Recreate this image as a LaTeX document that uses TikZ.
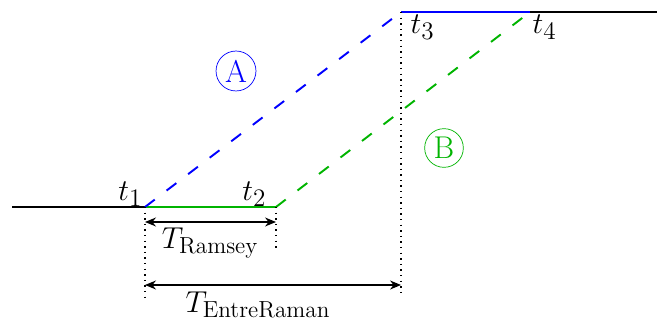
\documentclass[tikz,border=0pt]{standalone}
\usepackage{amsmath,amssymb}
\usepackage{xcolor}
\usetikzlibrary{arrows.meta,positioning}
\definecolor{verde}{RGB}{0,180,0}

\begin{document}
\begin{tikzpicture}[x=0.0201cm, y=-0.0201cm, >={Stealth[length=2.2mm, width=1.8mm]},
  nivel/.style={line width=1.1pt}, salto/.style={line width=1.1pt, dash pattern=on 7pt off 8.5pt},
  guia/.style={line width=0.8pt, dash pattern=on 0.8pt off 2.4pt}, rotulo/.style={font=\fontsize{19}{23}\selectfont},
  estado/.style={draw, circle, inner sep=1.8pt, font=\fontsize{18}{22}\selectfont}]
\useasboundingbox (0,0) rectangle (657,323);
\coordinate (ini) at (12,207); \coordinate (t1) at (145,207); \coordinate (t2) at (276,207);
\coordinate (t3) at (401,12); \coordinate (t4) at (530,12); \coordinate (fim) at (657,12);
\draw[nivel] (ini) -- (t1); \draw[nivel, verde] (t1) -- (t2);
\draw[nivel, blue] (t3) -- (t4); \draw[nivel] (t4) -- (fim);
\draw[salto, blue] (t1) -- (t3); \draw[salto, verde] (t2) -- (t4);
\node[rotulo, above left=-3pt and -2pt of t1] (lt1) {$t_1$};
\node[rotulo, above left=-3pt and 2pt of t2] (lt2) {$t_2$};
\node[rotulo, below right=-2pt and 2pt of t3] (lt3) {$t_3$};
\node[rotulo, below right=-2pt and -2pt of t4] (lt4) {$t_4$};
\coordinate (b1) at (145,297); \coordinate (b2) at (276,250); \coordinate (b3) at (401,297);
\draw[guia] (t1) -- (b1); \draw[guia] (t2) -- (b2); \draw[guia] (t3) -- (b3);
\coordinate (r1) at (145,222); \coordinate (r2) at (276,222);
\coordinate (e1) at (145,285); \coordinate (e2) at (401,285);
\draw[<->, line width=0.7pt] (r1) -- (r2); \draw[<->, line width=0.7pt] (e1) -- (e2);
\node[rotulo] (tram) at (210,243) {$T_{\text{Ramsey}}$};
\node[rotulo] (tent) at (258,305) {$T_{\text{EntreRaman}}$};
\node[estado, blue] (A) at (236,71) {A};
\node[estado, verde] (B) at (444,148) {B};
\end{tikzpicture}
\end{document}
